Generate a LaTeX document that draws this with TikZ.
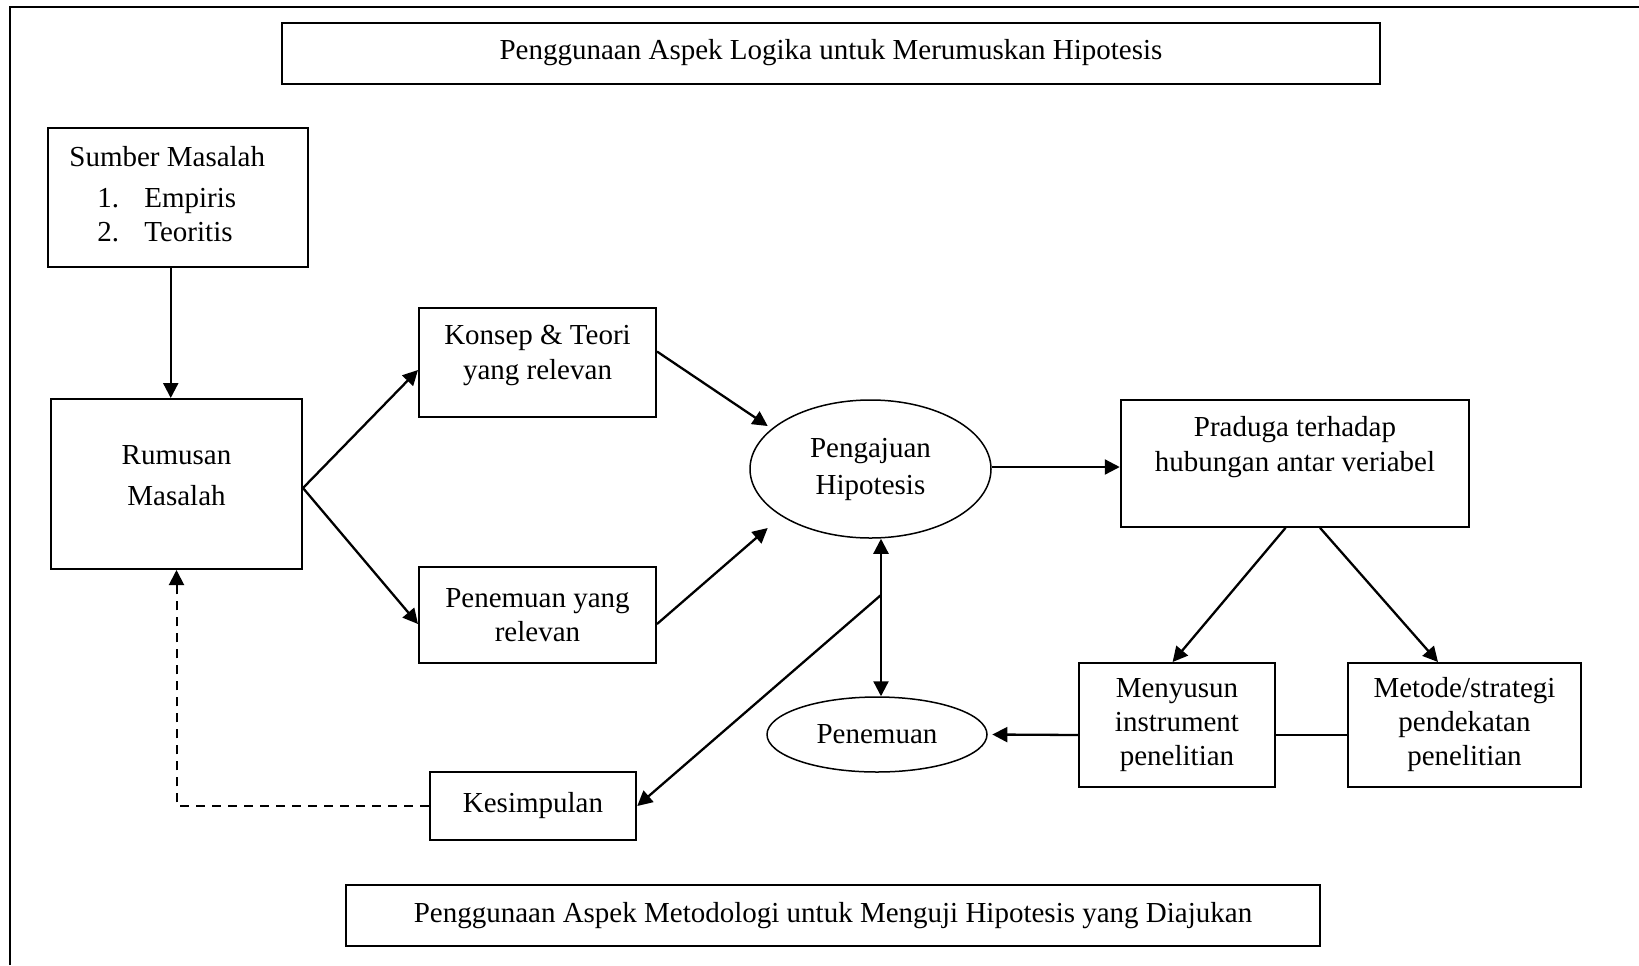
\documentclass[tikz,border=0pt]{standalone}
\usepackage{fontspec}
\setmainfont{Liberation Serif}
\usetikzlibrary{shapes.geometric,arrows.meta}
\begin{document}
\begin{tikzpicture}[x=0.5pt,y=-0.5pt,
  every node/.style={font=\fontsize{14.5}{17}\selectfont},
  box/.style={draw,line width=1pt,rectangle,inner sep=2pt,align=center},
  oval/.style={draw,line width=0.75pt,ellipse,inner sep=0pt,align=center},
  txt/.style={inner sep=0pt,align=center},
  conn/.style={line width=1.15pt,-{Triangle[length=7.5pt,width=7.5pt]}},
  dconn/.style={line width=1.15pt,{Triangle[length=7.5pt,width=7.5pt]}-{Triangle[length=7.5pt,width=7.5pt]}},
  plain/.style={line width=0.75pt},
  dashconn/.style={line width=1pt,dash pattern=on 4.5pt off 3.5pt,-{Triangle[length=7.5pt,width=7.5pt]}}]
\useasboundingbox (0,0) rectangle (1639,965);
% outer frame (cut at right and bottom)
\draw[line width=1pt] (10,965) -- (10,6.5) -- (1639,6.5);

\node[box,minimum width=549pt,minimum height=30.5pt] (title) at (831,53)
  {Penggunaan Aspek Logika untuk Merumuskan Hipotesis};

\node[box,minimum width=129.75pt,minimum height=69.5pt] (sumber) at (177.75,197.5) {};
\node[txt,anchor=base west] (s1) at (69,166) {Sumber Masalah};
\node[txt,anchor=base west] (s2n) at (97,207) {1.};
\node[txt,anchor=base west] (s2) at (144,207) {Empiris};
\node[txt,anchor=base west] (s3n) at (97,241) {2.};
\node[txt,anchor=base west] (s3) at (144,241) {Teoritis};

\node[box,minimum width=125.5pt,minimum height=85pt] (rumusan) at (176.5,484) {};
\node[txt,font=\fontsize{14.5}{20.5}\selectfont] (rumusanT) at (176.5,476) {Rumusan\\Masalah};

\node[box,minimum width=118.5pt,minimum height=54.5pt] (konsep) at (537.5,362.5) {};
\node[txt,font=\fontsize{14.5}{17.2}\selectfont] (konsepT) at (537.5,355.5) {Konsep \& Teori\\yang relevan};

\node[box,minimum width=118.5pt,minimum height=48pt] (penrel) at (537.5,615) {Penemuan yang\\relevan};

\node[oval,minimum width=120.5pt,minimum height=69pt,font=\fontsize{14.5}{18.5}\selectfont] (pengajuan) at (870.5,469) {Pengajuan\\Hipotesis};

\node[box,minimum width=174.25pt,minimum height=63.5pt] (praduga) at (1295,463.3) {};
\node[txt,font=\fontsize{14.5}{17.5}\selectfont] (pradugaT) at (1295,447.5) {Praduga terhadap\\hubungan antar veriabel};

\node[box,minimum width=98pt,minimum height=62pt] (menyusun) at (1177,725) {Menyusun\\instrument\\penelitian};
\node[box,minimum width=116.5pt,minimum height=62pt] (metode) at (1464.5,725) {Metode/strategi\\pendekatan\\penelitian};

\node[oval,minimum width=110pt,minimum height=37.5pt] (penemuan) at (877,734.5) {Penemuan};

\node[box,minimum width=103.25pt,minimum height=34pt] (kesimpulan) at (533,806) {Kesimpulan};

\node[box,minimum width=487.25pt,minimum height=30.5pt] (bottom) at (833,915.5)
  {Penggunaan Aspek Metodologi untuk Menguji Hipotesis yang Diajukan};

% connectors
\draw[conn] ([xshift=-3.5pt]sumber.south) -- ([xshift=-3.5pt]sumber.south |- rumusan.north);
\draw[conn] ([yshift=-2pt]rumusan.east) -- ([yshift=-3.75pt]konsep.west);
\draw[conn] ([yshift=-2pt]rumusan.east) -- ([yshift=-4.5pt]penrel.west);
\draw[conn] ([yshift=5.5pt]konsep.east) -- ([shift={(-102.8,-43)}]pengajuan.center);
\draw[conn] ([yshift=-4.5pt]penrel.east) -- ([shift={(-102.8,59)}]pengajuan.center);
\draw[conn] ([yshift=1pt]pengajuan.east) -- ([yshift=1pt]pengajuan.east -| praduga.west);
\draw[conn] ([xshift=-4.7pt]praduga.south) -- ([xshift=-2.2pt]menyusun.north);
\draw[conn] ([xshift=12.5pt]praduga.south) -- ([xshift=-13.25pt]metode.north);
\draw[conn] ([yshift=-5pt]menyusun.west) -- ([xshift=2.3pt]penemuan.east);
\draw[plain] ([yshift=-5pt]menyusun.east) -- ([yshift=-5pt]metode.west);
\draw[dconn] ([xshift=2pt]penemuan.north) -- ([xshift=2pt]penemuan.north |- pengajuan.south);
\coordinate (J) at (881,595);
\draw[conn] (J) -- (kesimpulan.east);
\draw[dashconn] (kesimpulan.west) -| (rumusan.south);
\end{tikzpicture}
\end{document}
